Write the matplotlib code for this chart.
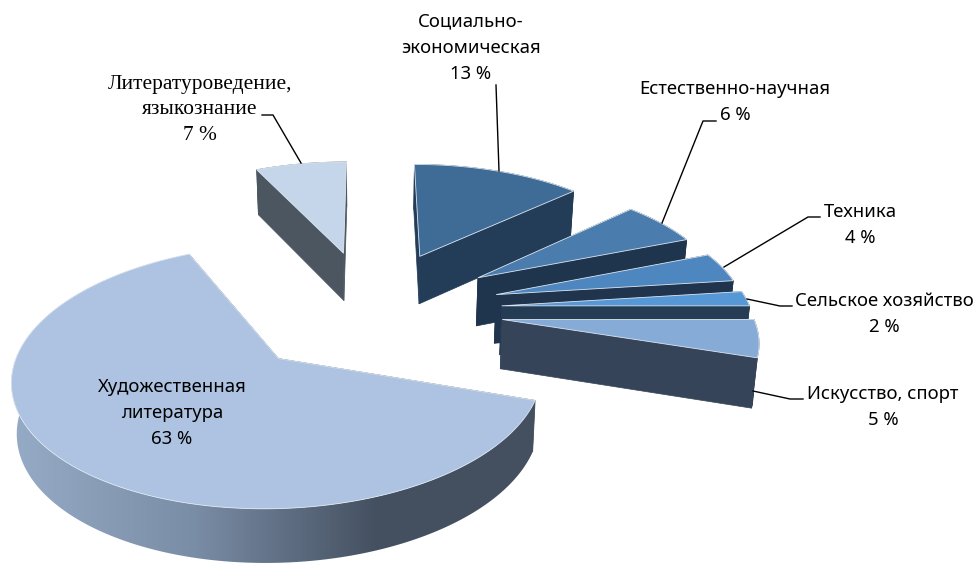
#!/usr/bin/env python3
"""Exploded 3D pie chart, drawn as projected polygons."""

import numpy as np
import matplotlib
matplotlib.use('Agg')
import matplotlib.pyplot as plt
from matplotlib.colors import LinearSegmentedColormap
from matplotlib.patches import Polygon

# Data, clockwise from 12 o'clock
categories = ['Социально-\nэкономическая', 'Естественно-научная', 'Техника',
              'Сельское хозяйство', 'Искусство, спорт',
              'Художественная\nлитература', 'Литературоведение,\nязыкознание']
shares = [13, 6, 4, 2, 5, 63, 7]

top_colors = ['#3E6C97', '#4A7CAD', '#4E86BF', '#5698D5', '#86ABD6', '#ADC3E1', '#C5D5EA']
wall_colors = ['#233C57', '#1F344D', '#20344D', '#243C54', '#364459', '#445060', '#4C5660']

# Projection settings
CX, CY = 370.5, 309.7
SX, SY = 249, 116.6
DIST = 7.7
EXPLODE = 0.53
DEPTH = 49
BOTTOM_SHRINK = 0.985

label_pos = [(471, 48), (735, 102), (860, 225), (884, 314), (883, 407), (172, 413), (200, 110)]
leaders = [
    [(496, 85), (499, 171)],
    [(716, 121), (703, 121), (662, 223)],
    [(820, 217), (808, 217), (724, 267)],
    [(792, 306), (780, 306), (747, 299)],
    [(803, 399), (790, 399), (753, 391)],
    None,
    [(262, 115), (273, 115), (301, 163)],
]


def project(x, y, z=0.0):
    p = DIST / (DIST - y)
    sx = SX * x * p
    if z:
        sx *= BOTTOM_SHRINK
    return CX + sx, CY + SY * y * p + DEPTH * z * p ** 0.5


def wedge_faces(a0, a1):
    """Top polygon and wall polygons of one exploded slice, angles in radians."""
    mid = (a0 + a1) / 2
    ax0, ay0 = EXPLODE * np.sin(mid), -EXPLODE * np.cos(mid)
    angles = np.linspace(a0, a1, max(int((a1 - a0) * 60), 4))
    xs = ax0 + np.sin(angles)
    ys = ay0 - np.cos(angles)
    rim = [project(x, y) for x, y in zip(xs, ys)]
    rim_low = [project(x, y, 1) for x, y in zip(xs, ys)]
    apex, apex_low = project(ax0, ay0), project(ax0, ay0, 1)
    top = [apex] + rim
    walls = [[apex, rim[0], rim_low[0], apex_low],
             [apex, rim[-1], rim_low[-1], apex_low]]
    outer = rim + rim_low[::-1]
    return ay0, top, walls, outer


fig = plt.figure(figsize=(9.76, 5.63), dpi=100)
ax = fig.add_axes([0, 0, 1, 1])
ax.axis('off')

edges = 2 * np.pi * np.cumsum([0] + shares) / sum(shares)
slices = []
for i in range(len(shares)):
    slices.append((i,) + wedge_faces(edges[i], edges[i + 1]))
slices.sort(key=lambda s: s[1])  # back to front

# gradient for the big slice's wall
side_cmap = LinearSegmentedColormap.from_list(
    'side', [(0, '#96ABC6'), (0.35, '#7A8DA6'), (0.7, '#445060'), (1, '#445060')])

for rank, (i, ay0, top, walls, outer) in enumerate(slices):
    z = 2 + rank * 3
    for quad in walls:
        ax.add_patch(Polygon(quad, closed=True, fc=wall_colors[i], ec=wall_colors[i], lw=0.5, zorder=z))
    if shares[i] > 50:
        patch = Polygon(outer, closed=True, fc='none', ec='none', zorder=z + 1)
        ax.add_patch(patch)
        xs = [p[0] for p in outer]
        ys = [p[1] for p in outer]
        img = ax.imshow(np.linspace(0, 1, 256).reshape(1, -1), cmap=side_cmap, aspect='auto',
                        extent=(min(xs), max(xs), max(ys), min(ys)), zorder=z + 1)
        img.set_clip_path(patch)
    else:
        ax.add_patch(Polygon(outer, closed=True, fc=wall_colors[i], ec=wall_colors[i], lw=0.5, zorder=z + 1))
    ax.add_patch(Polygon(top, closed=True, fc=top_colors[i], ec='#DCE6F2', lw=0.6, zorder=z + 2))

ax.set_xlim(0, 976)
ax.set_ylim(563, 0)

for i, name in enumerate(categories):
    serif = name.startswith('Литератур')
    ax.text(label_pos[i][0], label_pos[i][1], f'{name}\n{shares[i]} %', ha='center', va='center',
            family='Liberation Serif' if serif else 'Noto Sans',
            fontsize=15.4 if serif else 13.3, linespacing=1.45 if serif else 1.6,
            color='black', zorder=50)
    if leaders[i]:
        lx, ly = zip(*leaders[i])
        ax.plot(lx, ly, color='black', lw=1.0, zorder=49)

fig.savefig('out.png', dpi=100)
